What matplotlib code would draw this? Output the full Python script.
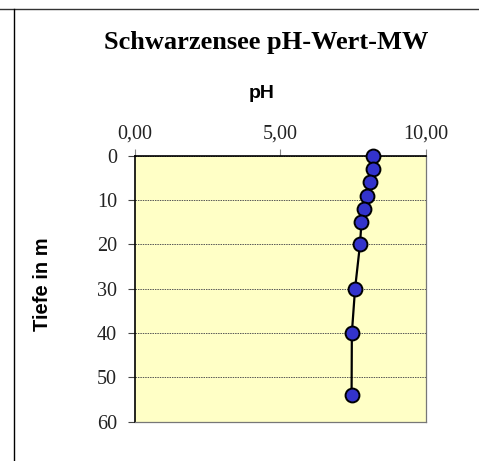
import matplotlib
matplotlib.use("Agg")
import matplotlib.pyplot as plt
from matplotlib.lines import Line2D

# Mean pH profile of the Schwarzensee by depth
depth_m = [0, 3, 6, 9, 12, 15, 20, 30, 40, 54]
ph_value = [8.20, 8.18, 8.08, 7.98, 7.89, 7.79, 7.74, 7.57, 7.46, 7.45]

x_ticks = [0, 5, 10]
x_tick_labels = ["0,00", "5,00", "10,00"]
y_ticks = [0, 10, 20, 30, 40, 50, 60]

W, H = 479, 461
fig = plt.figure(figsize=(W / 100, H / 100), dpi=100)
fig.patch.set_facecolor("white")

left, right, top, bottom = 135, 425.7, 155.7, 421.7
ax = fig.add_axes([left / W, 1 - bottom / H, (right - left) / W, (bottom - top) / H])
ax.set_facecolor("#FFFFC6")

ax.plot(ph_value, depth_m, color="black", lw=1.6, marker="o", markersize=10,
        markerfacecolor="#3333CC", markeredgecolor="black", markeredgewidth=1.4,
        zorder=3, clip_on=False)

ax.set_xlim(0, 10)
ax.set_ylim(60, 0)
ax.xaxis.tick_top()
ax.set_xticks(x_ticks)
ax.set_xticklabels(x_tick_labels)
ax.set_yticks(y_ticks)

serif = "Liberation Serif"
for lab in ax.get_xticklabels() + ax.get_yticklabels():
    lab.set_fontfamily(serif)
    lab.set_fontsize(14.5)
    lab.set_color("#222222")

ax.tick_params(axis="x", direction="out", length=5, width=0.8, color="#888888", pad=4)
ax.tick_params(axis="y", direction="out", length=5, width=0.8, color="#444444", pad=8)

ax.yaxis.grid(True, linestyle=(0, (1.5, 1.0)), color="#555555", lw=0.7)
ax.set_axisbelow(True)

ax.spines["top"].set_color("black")
ax.spines["top"].set_linewidth(1.2)
ax.spines["left"].set_color("black")
ax.spines["left"].set_linewidth(1.2)
for s in ("right", "bottom"):
    ax.spines[s].set_color("#777777")
    ax.spines[s].set_linewidth(0.9)
    ax.spines[s].set_linestyle((0, (1.5, 1.0)))

fig.text(266 / W, 1 - 43 / H, "Schwarzensee pH-Wert-MW", ha="center", va="center",
         fontfamily=serif, fontweight="bold", fontsize=19)
fig.text(262 / W, 1 - 94 / H, "pH", ha="center", va="center",
         fontfamily="Liberation Sans", fontweight="bold", fontsize=14)
fig.text(42 / W, 1 - 284 / H, "Tiefe in m", ha="center", va="center", rotation=90,
         fontfamily="Liberation Sans", fontweight="bold", fontsize=14.5)

# outer frame lines
fig.add_artist(Line2D([0, 1], [1 - 9 / H, 1 - 9 / H], transform=fig.transFigure,
                      color="#333333", lw=1.0))
fig.add_artist(Line2D([13.5 / W, 13.5 / W], [0, 1 - 9 / H], transform=fig.transFigure,
                      color="black", lw=1.0))

fig.savefig("out.png", dpi=100)
